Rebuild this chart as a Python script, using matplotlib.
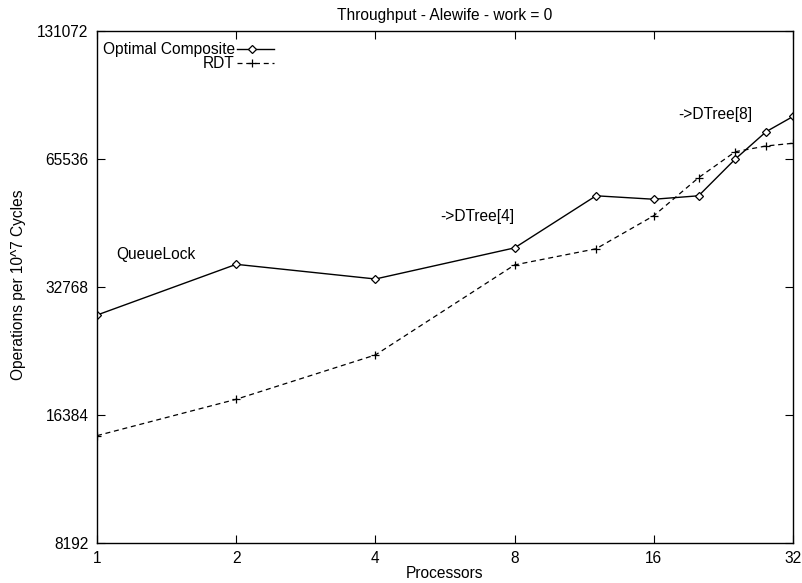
import matplotlib
matplotlib.use("Agg")
import matplotlib.pyplot as plt
from matplotlib.lines import Line2D

plt.rcParams['font.family'] = ['Liberation Sans', 'DejaVu Sans']

processors = [1, 2, 4, 8, 12, 16, 20, 24, 28, 32]
optimal_composite = [28150, 37050, 34220, 40500, 53700, 52700, 53700, 65500, 76000, 82500]
rdt = [14650, 17840, 22680, 36930, 40300, 48200, 59240, 68170, 70330, 71370]

x_ticks = [1, 2, 4, 8, 16, 32]
y_ticks = [8192, 16384, 32768, 65536, 131072]

annotations = [("QueueLock", 1.103, 39100), ("->DTree[4]", 5.52, 47900), ("->DTree[8]", 18.08, 83200)]

FS = 11.2

fig = plt.figure(figsize=(8.03, 5.83), dpi=100)
ax = fig.add_axes([97/803, 1 - 543/583, 696/803, 512/583])

ax.plot(processors, optimal_composite, color='black', lw=1.0, marker='D',
        markersize=4.5, markerfacecolor='white', markeredgecolor='black', markeredgewidth=0.9)
ax.plot(processors, rdt, color='black', lw=0.9, ls=(0, (4, 3)), marker='+',
        markersize=6, markeredgewidth=0.9)

ax.set_xscale('log', base=2)
ax.set_yscale('log', base=2)
ax.set_xlim(1, 32)
ax.set_ylim(8192, 131072)
ax.set_xticks(x_ticks)
ax.set_xticklabels([str(v) for v in x_ticks])
ax.set_yticks(y_ticks)
ax.set_yticklabels([str(v) for v in y_ticks])
ax.minorticks_off()
ax.tick_params(direction='in', length=6, width=0.8, top=True, right=True, labelsize=FS, pad=6)
for s in ax.spines.values():
    s.set_linewidth(1.0)

ax.set_title("Throughput - Alewife - work = 0", fontsize=FS, pad=8)
ax.set_xlabel("Processors", fontsize=FS, labelpad=0)
ax.set_ylabel("Operations per 10^7 Cycles", fontsize=FS)
ax.yaxis.set_label_coords(-0.102, 0.505)

for txt, xv, yv in annotations:
    ax.text(xv, yv, txt, fontsize=FS, ha='left', va='center')

# gnuplot-style key
y1, y2 = 0.964, 0.937
ax.text(0.198, y1, "Optimal Composite", transform=ax.transAxes, ha='right', va='center', fontsize=FS)
ax.text(0.198, y2, "RDT", transform=ax.transAxes, ha='right', va='center', fontsize=FS)
ax.add_line(Line2D([0.201, 0.254], [y1, y1], transform=ax.transAxes, color='black', lw=1.0))
ax.add_line(Line2D([0.223], [y1], transform=ax.transAxes, marker='D', markersize=4.5,
                   markerfacecolor='white', markeredgecolor='black', markeredgewidth=0.9))
ax.add_line(Line2D([0.201, 0.254], [y2, y2], transform=ax.transAxes, color='black', lw=0.9,
                   ls=(0, (4, 3))))
ax.add_line(Line2D([0.223], [y2], transform=ax.transAxes, marker='+', markersize=6,
                   color='black', markeredgewidth=0.9))

fig.savefig("out.png", dpi=100)
